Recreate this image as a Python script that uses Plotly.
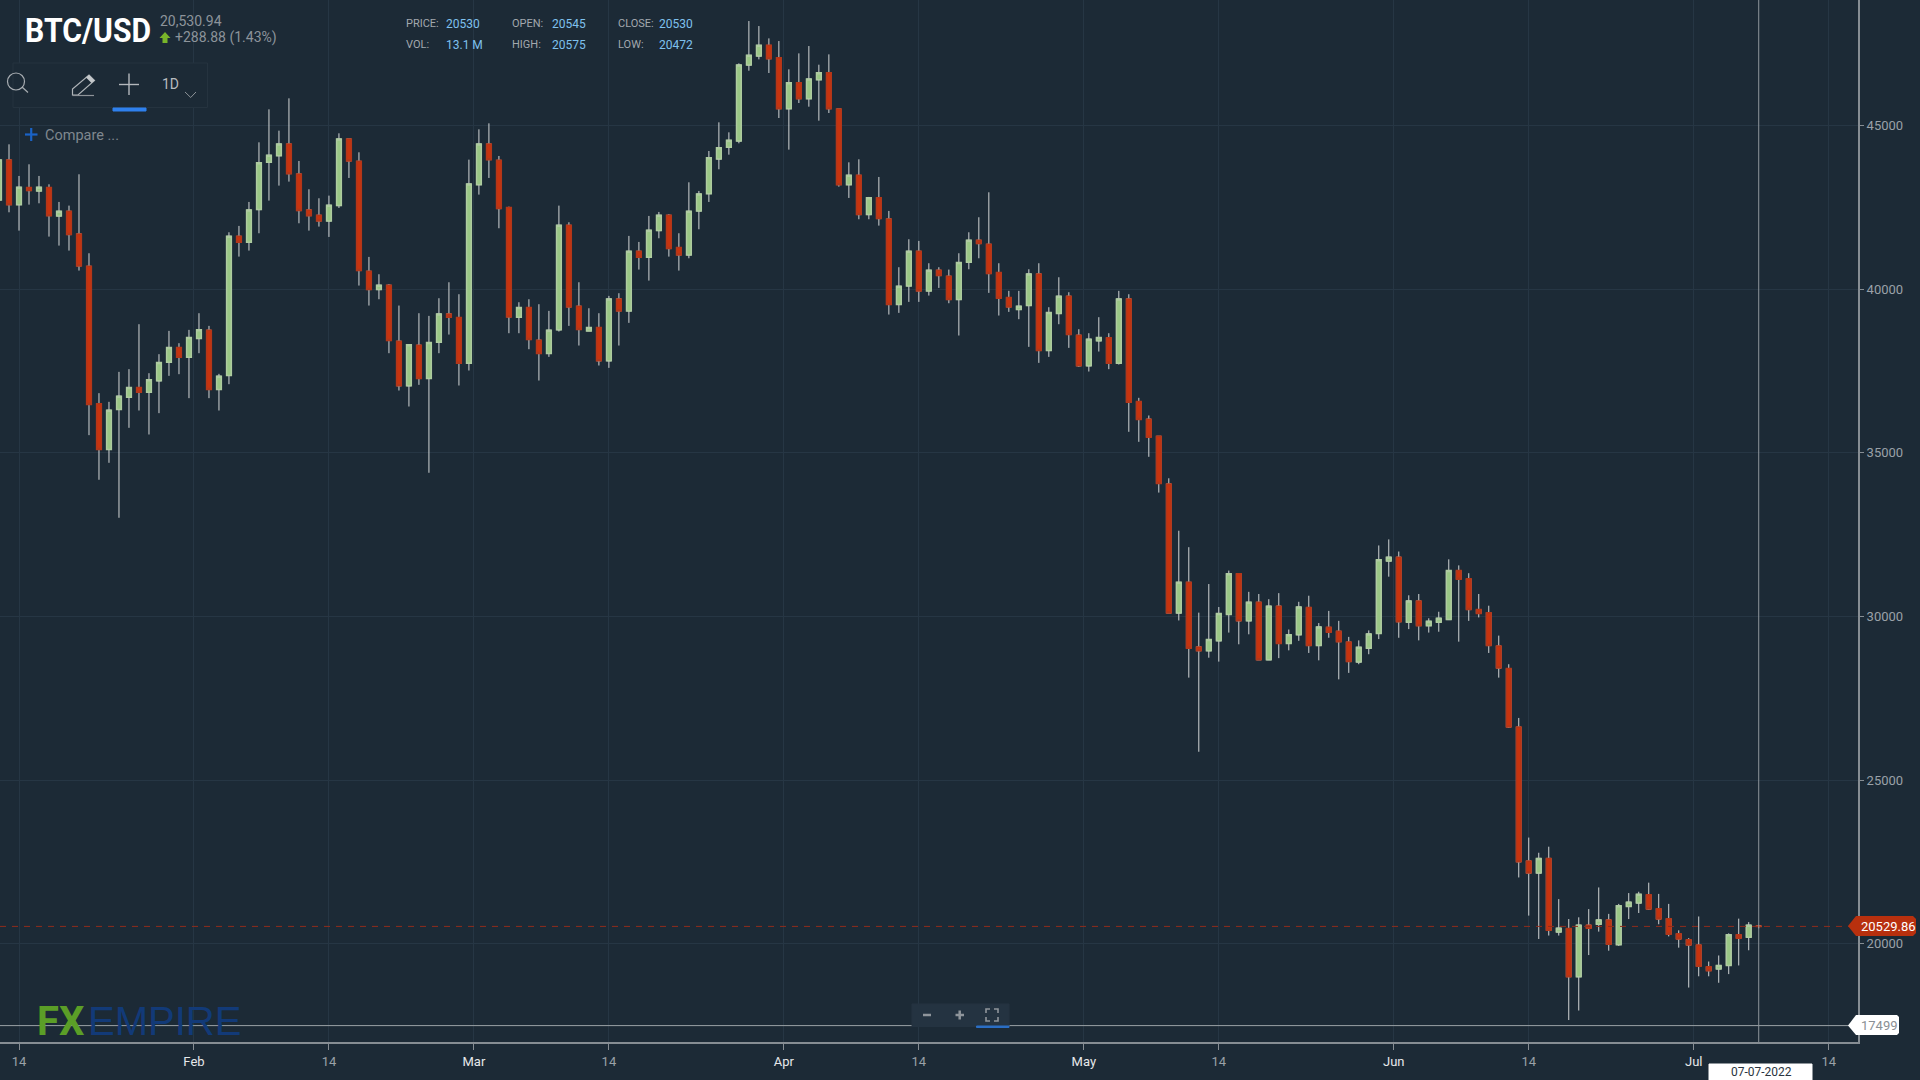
import pandas as pd
import plotly.graph_objects as go

## daily BTC/USD candles, first one is 12 Jan 2022
first_day = "2022-01-12"

opens = [
    42729,43951,42586,43106,43004,43106,42240,42383,41691,40703,
    36499,35104,36326,36703,36998,36855,37201,37771,38219,37924,
    38494,38749,36936,37364,41619,41436,42434,43879,44083,44439,
    43523,42424,42261,42088,42556,44592,43910,40550,39990,40123,
    38413,37049,38291,37272,38382,39247,39135,37741,43197,44439,
    43940,42495,39146,39441,38443,38036,38759,41955,39482,38728,
    38830,37812,39706,39339,41161,40978,41792,42261,41273,41049,
    42393,42922,43981,44337,44531,46852,47127,47453,47076,45518,
    46312,45824,46404,46618,45508,43197,43482,42281,42800,42149,
    39533,40103,41161,39950,40581,40398,39685,40825,41497,41375,
    40510,39746,39380,39502,40469,38127,39258,39787,38596,37659,
    38423,38515,37741,39706,36570,36031,35508,34052,30105,31045,
    29072,28953,29257,30065,31310,29867,30436,28675,30317,29178,
    29443,30277,29112,29668,29549,29218,28608,29032,29482,31694,
    31813,29827,30476,29721,29827,29906,31403,31151,30211,30118,
    29098,28410,26622,22530,22159,22609,20357,20464,18993,20569,
    20596,20728,19973,21139,21245,21497,21073,20768,20304,20119,
    19960,19298,19232,19337,20278,20199,20545]
highs = [
    44256,44429,43462,43818,43462,43207,42668,42556,43513,41100,
    36825,36560,37476,37558,38932,37435,38016,38728,38352,38759,
    39268,38881,37415,41741,41935,42668,44490,45498,44846,45834,
    43920,43055,42780,42861,44765,44592,44185,40988,40459,40153,
    39502,38301,39268,39186,39726,40214,39848,43961,44887,45070,
    44073,42525,39604,39695,39543,39339,42556,42047,40214,39420,
    39268,39797,39879,41630,41446,42240,42362,42291,41711,43268,
    43004,44225,45101,44795,46903,48196,48043,47666,47585,46720,
    47208,47432,46862,47178,45508,43879,43971,42821,43431,42393,
    40673,41528,41477,40795,40673,40601,41100,41741,42200,42963,
    40795,39951,39950,40611,40795,39451,40367,39909,38779,38657,
    39146,38657,39951,39848,36682,36143,35508,34224,32621,32118,
    30118,30992,30290,31403,31310,30754,30688,30529,30714,29602,
    30449,30635,29800,30171,29867,29377,29271,29575,32171,32356,
    31986,30648,30688,29946,30145,31747,31562,31323,30688,30330,
    29416,28542,26900,23245,22781,22966,21364,20755,20808,21059,
    21721,20913,21218,21549,21589,21867,21523,21218,20410,20172,
    20834,19457,19642,20318,20768,20662,20575]
lows = [
    42525,42352,41792,42586,42627,41609,41334,41182,40571,35542,
    34178,34697,33017,35766,36295,35562,36214,37354,37405,36672,
    38046,36672,36295,37099,40998,41182,41711,42709,43167,43289,
    42016,41792,41915,41599,42485,43401,40113,39502,39695,38046,
    36906,36417,37079,34392,38046,38616,37059,37517,42892,43401,
    41864,38657,38657,38168,37211,37934,38708,38881,38280,38728,
    37670,37598,38280,38973,40601,40265,41558,40998,40571,40947,
    41833,42668,43666,44113,44460,46679,47025,46608,45233,44266,
    45691,45579,45152,45386,43136,42790,42139,42139,41945,39227,
    39278,39614,39614,39807,40041,39573,38586,40611,40947,39889,
    39197,39308,39085,38240,37751,37934,38932,38209,37629,37486,
    38097,37558,37700,35644,35338,34880,33787,30105,29880,28132,
    25867,28741,28622,29509,29151,29456,28675,28675,28728,28966,
    29257,28886,28661,29350,28079,28277,28542,28847,29310,31217,
    29350,29615,29271,29509,29535,29906,29231,29867,29972,28886,
    28132,26595,22026,20860,20146,20251,20251,17669,17960,19655,
    20371,19788,19933,20755,20940,21033,20596,20225,19881,18662,
    19006,19006,18808,19073,19337,19801,20472]
closes = [
    43951,42586,43116,43014,43116,42250,42383,41670,40713,36478,
    35104,36305,36733,36998,36855,37232,37761,38219,37924,38525,
    38759,36936,37344,41619,41436,42424,43869,44093,44439,43533,
    42403,42250,42088,42566,44592,43920,40571,39990,40123,38433,
    37049,38301,37272,38372,39247,39146,37741,43218,44439,43961,
    42464,39156,39441,38463,38036,38749,41955,39461,38769,38830,
    37812,39706,39339,41161,40978,41803,42261,41243,41049,42383,
    42912,44022,44327,44551,46852,47147,47453,47045,45518,46312,
    45824,46424,46618,45518,43197,43482,42281,42800,42159,39533,
    40092,41161,39950,40581,40418,39685,40815,41497,41395,40479,
    39726,39461,39482,40469,38127,39288,39787,38616,37659,38474,
    38525,37741,39706,36550,36020,35481,34065,30105,31045,29032,
    28953,29297,30092,31310,29867,30436,28675,30317,29178,29443,
    30290,29112,29681,29522,29231,28622,29059,29469,31734,31813,
    29840,30476,29721,29853,29946,31403,31138,30211,30092,29112,
    28423,26622,22503,22159,22609,20410,20477,18993,20569,20477,
    20728,19987,21165,21271,21510,21059,20755,20291,20145,19960,
    19311,19179,19337,20278,20172,20569,20530]

## the 1st of month ticks sit half a day before the candle on this chart
tick_dates = ["2022-01-14","2022-01-31 12:00","2022-02-14","2022-02-28 12:00","2022-03-14",
              "2022-03-31 12:00","2022-04-14","2022-04-30 12:00","2022-05-14","2022-05-31 12:00",
              "2022-06-14","2022-06-30 12:00","2022-07-14"]
tick_labels = ["14","Feb","14","Mar","14","Apr","14","May","14","Jun","14","Jul","14"]
price_ticks = [20000,25000,30000,35000,40000,45000]

last_price = 20529.86
low_marker = 17499
cursor_date = "2022-07-07"

BG = "#1c2a36"
GRID = "#263644"
AXIS = "#868d93"
WICK = "#d3d6d6"
UP = "#9ac785"
UP_EDGE = "#aecba0"
DOWN = "#c7340f"
DOWN_EDGE = "#b2371a"

W, H = 1920, 1080
PLOT_W, PLOT_H = 1858, 1042

def fx(x):
    return x / PLOT_W

def fy(y):
    return 1 - y / PLOT_H

days = pd.date_range(first_day, periods=len(opens))
body_top = [max(o, c) for o, c in zip(opens, closes)]
body_bot = [min(o, c) for o, c in zip(opens, closes)]

fig = go.Figure()

# wicks first, then the bodies again on top so the outline colour differs from the wick
fig.add_trace(go.Candlestick(x=days, open=opens, high=highs, low=lows, close=closes,
                             whiskerwidth=0,
                             increasing=dict(line=dict(color=WICK, width=1), fillcolor=UP),
                             decreasing=dict(line=dict(color=WICK, width=1), fillcolor=DOWN),
                             hoverinfo="skip", showlegend=False))
fig.add_trace(go.Candlestick(x=days, open=opens, high=body_top, low=body_bot, close=closes,
                             whiskerwidth=0,
                             increasing=dict(line=dict(color=UP_EDGE, width=1.5), fillcolor=UP),
                             decreasing=dict(line=dict(color=DOWN_EDGE, width=1.5), fillcolor=DOWN),
                             hoverinfo="skip", showlegend=False))

def line_px(x0, y0, x1, y1, color, width=1):
    fig.add_shape(type="line", xref="paper", yref="paper", x0=fx(x0), y0=fy(y0), x1=fx(x1), y1=fy(y1),
                  line=dict(color=color, width=width))

def rect_px(x0, y0, x1, y1, fill, line=None):
    fig.add_shape(type="rect", xref="paper", yref="paper", x0=fx(x0), y0=fy(y0), x1=fx(x1), y1=fy(y1),
                  fillcolor=fill, line=dict(color=line or fill, width=1))

def poly_px(points, fill=None, line=None, width=1, close=True):
    path = "M " + " L ".join("%.5f %.5f" % (fx(x), fy(y)) for x, y in points)
    if close:
        path += " Z"
    fig.add_shape(type="path", xref="paper", yref="paper", path=path,
                  fillcolor=fill if fill else "rgba(0,0,0,0)",
                  line=dict(color=line if line else "rgba(0,0,0,0)", width=width))

def text_px(x, y, s, size, color, anchor="left", family="Roboto"):
    fig.add_annotation(xref="paper", yref="paper", x=fx(x), y=fy(y), text=s, showarrow=False,
                       xanchor=anchor, yanchor="middle", borderpad=0, borderwidth=0,
                       font=dict(family=family, size=size, color=color))

## logo under the price lines
text_px(37, 1021, "<b>FX</b>", 40, "#5b9e27")
text_px(88, 1021, "EMPIRE", 40, "#123a78", family="Liberation Sans")

## price lines and cursor
fig.add_shape(type="line", xref="paper", yref="y", x0=0, x1=1, y0=last_price, y1=last_price,
              line=dict(color="#8e2c1c", width=1, dash="6px,6px"))
fig.add_shape(type="line", xref="paper", yref="y", x0=0, x1=1, y0=low_marker, y1=low_marker,
              line=dict(color="#9aa0a5", width=1))
fig.add_shape(type="line", xref="x", yref="paper", x0=cursor_date, x1=cursor_date, y0=0, y1=1,
              line=dict(color="#8f969c", width=1))

## tags on the right of the axis
poly_px([(1848,926),(1856,916),(1913,916),(1916,919),(1916,933),(1913,936),(1856,936)], fill="#b8300e")
text_px(1861, 926, "20529.86", 13, "#ffffff")
poly_px([(1848,1025.5),(1856,1015),(1897,1015),(1899,1017),(1899,1033),(1897,1035),(1856,1035)], fill="#ffffff")
text_px(1861, 1025.5, "17499", 13, "#8a8f94")
rect_px(1709, 1064, 1812, 1080, "#ffffff")
text_px(1761, 1072, "07-07-2022", 12, "#2a3440", anchor="center")

## header
text_px(16.5, 30, "<b>BTC/USD</b>", 34, "#ffffff")
text_px(160, 21, "20,530.94", 14, "#8d949b")
poly_px([(165,32),(170.5,38),(167.5,38),(167.5,43),(162.5,43),(162.5,38),(159.5,38)], fill="#78b52a")
text_px(174.5, 37.5, "+288.88 (1.43%)", 14, "#8d949b")

stat_labels = ["PRICE:","OPEN:","CLOSE:","VOL:","HIGH:","LOW:"]
stat_values = ["20530","20545","20530","13.1 M","20575","20472"]
label_x = [406,512,618]
value_x = [446,552,659]
for i in range(6):
    row_y = 23.5 if i < 3 else 44.5
    text_px(label_x[i % 3], row_y, stat_labels[i], 11, "#a2a8ae")
    text_px(value_x[i % 3], row_y, stat_values[i], 12, "#7fc1ee")

## toolbar
rect_px(13, 63, 207.5, 107.5, BG, "#25333f")
fig.add_shape(type="circle", xref="paper", yref="paper", x0=fx(7.5), x1=fx(24.5), y0=fy(73), y1=fy(90),
              line=dict(color="#a8adb2", width=1.2))
line_px(22, 87, 28, 92.5, "#a8adb2", 1.2)
poly_px([(72.5,95),(72.5,89),(89,75),(94.5,80.5),(78,95)], line="#b0b5b9", width=1.2)
poly_px([(86,77.5),(89,75),(94.5,80.5),(91.5,83)], fill="#c4c8cb")
line_px(72.5, 95.5, 94, 95.5, "#8d9398", 1.2)
line_px(119, 84.5, 139, 84.5, "#b4b8bc", 1.4)
line_px(129, 73.5, 129, 95, "#b4b8bc", 1.4)
rect_px(113, 108, 146, 111, "#2f80ed")
text_px(170, 83.5, "1D", 14, "#b8bcc0", anchor="center")
poly_px([(185,92),(190.7,97.5),(196,92)], line="#8d9398", width=1, close=False)

line_px(25, 134.5, 37.5, 134.5, "#1a63c6", 2.2)
line_px(31.2, 128, 31.2, 141, "#1a63c6", 2.2)
text_px(45, 136, "Compare ...", 14.5, "#7f878e")

## zoom buttons
rect_px(912, 1004, 1009, 1026.5, "#243341")
line_px(923, 1015, 931, 1015, "#8f959b", 2.5)
line_px(955.5, 1015, 964, 1015, "#8f959b", 2.5)
line_px(959.7, 1010.5, 959.7, 1019.5, "#8f959b", 2.5)
for sx in (-1, 1):
    for sy in (-1, 1):
        poly_px([(992 + sx * 2, 1015 + sy * 6), (992 + sx * 6, 1015 + sy * 6), (992 + sx * 6, 1015 + sy * 2)],
                line="#8f959b", width=1.6, close=False)
rect_px(976.5, 1026, 1009, 1027.5, "#2b6ec4")

fig.update_layout(
    width=W, height=H,
    margin=dict(l=0, r=W - PLOT_W, t=0, b=H - PLOT_H, pad=0),
    paper_bgcolor=BG, plot_bgcolor=BG,
    boxgap=0.32, boxmode="overlay",
    showlegend=False,
    font=dict(family="Roboto", color="#9aa1a8", size=13),
)
month_color = "#e6e8ea"
fig.update_xaxes(
    type="date", range=["2022-01-12 02:24", "2022-07-16 22:19"], rangeslider_visible=False,
    tickmode="array", tickvals=tick_dates,
    ticktext=[t if t == "14" else '<span style="color:%s">%s</span>' % (month_color, t) for t in tick_labels],
    showgrid=True, gridcolor=GRID, gridwidth=1, zeroline=False,
    showline=True, linecolor=AXIS, linewidth=2,
    ticks="outside", ticklen=6, tickwidth=1, tickcolor=AXIS,
    tickfont=dict(family="Roboto", size=13, color="#9aa1a8"),
)
fig.update_yaxes(
    side="right", range=[16998, 48839], tickmode="array", tickvals=price_ticks,
    ticktext=[str(v) for v in price_ticks],
    showgrid=True, gridcolor=GRID, gridwidth=1, zeroline=False,
    showline=True, linecolor=AXIS, linewidth=2,
    ticks="outside", ticklen=4, tickwidth=1, tickcolor=AXIS,
    tickfont=dict(family="Roboto", size=13, color="#9aa1a8"),
)

# no condensed Roboto here, so squeeze the title to the width it has in the picture
squeeze = """
document.body.style.margin='0';document.body.style.overflow='hidden';
document.querySelectorAll('.annotation-text').forEach(function(t){
  if(t.textContent==='BTC/USD'){t.setAttribute('textLength','126');t.setAttribute('lengthAdjust','spacingAndGlyphs');}
});
"""
fig.write_html("out.html", config={"displayModeBar": False}, post_script=squeeze)
